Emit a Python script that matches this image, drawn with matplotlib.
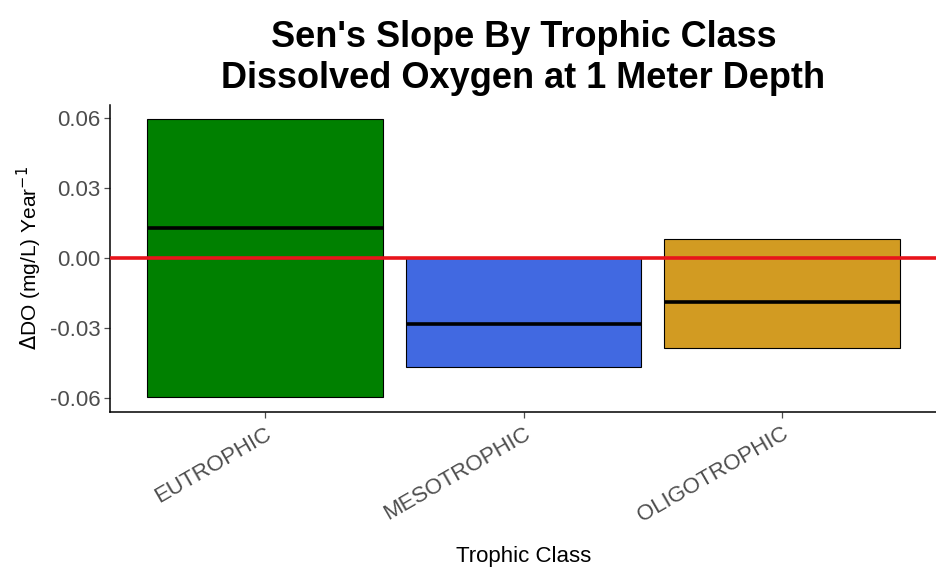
import matplotlib.pyplot as plt
import numpy as np

plt.rcParams['font.family'] = ['Liberation Sans', 'DejaVu Sans']

# Sen's slope summary by trophic class
classes = ['EUTROPHIC', 'MESOTROPHIC', 'OLIGOTROPHIC']
lower = [-0.0597, -0.0467, -0.0386]
median = [0.0129, -0.0283, -0.0189]
upper = [0.0596, -0.0002, 0.0081]
colors = ['#008000', '#4169E1', '#D29B22']
yticks = [-0.06, -0.03, 0.00, 0.03, 0.06]

fig = plt.figure(figsize=(9.37, 5.67), dpi=100)
ax = fig.add_axes([0.1174, 0.2734, 0.8826, 0.5414])

x = np.arange(1, len(classes) + 1)
width = 0.91
heights = np.array(upper) - np.array(lower)
ax.bar(x, heights, bottom=lower, width=width, color=colors,
       edgecolor='black', linewidth=0.8, zorder=2)
ax.hlines(median, x - width / 2, x + width / 2, color='black', lw=2.6, zorder=3)
ax.axhline(0, color='#E8141B', lw=2.6, zorder=4)

ax.set_xlim(0.4, 3.6)
ax.set_ylim(-0.066, 0.0656)
ax.set_yticks(yticks)
ax.set_yticklabels([f'{v:.2f}' for v in yticks])
ax.set_xticks(x)
ax.set_xticklabels(classes, rotation=30, ha='right', rotation_mode='anchor')

for s in ['top', 'right']:
    ax.spines[s].set_visible(False)
for s in ['left', 'bottom']:
    ax.spines[s].set_linewidth(1.1)
ax.tick_params(axis='both', colors='#4D4D4D', labelsize=16, length=4, width=0.9)
ax.tick_params(axis='x', pad=4)
ax.tick_params(axis='y', pad=3)

ax.set_ylabel(r'$\Delta$DO (mg/L) Year$^{-1}$', fontsize=15, labelpad=4)
ax.set_xlabel('Trophic Class', fontsize=16, labelpad=14)
ax.set_title("Sen's Slope By Trophic Class\nDissolved Oxygen at 1 Meter Depth",
             fontsize=26, fontweight='bold', pad=12, linespacing=1.25)

fig.savefig('out.png', dpi=100)
